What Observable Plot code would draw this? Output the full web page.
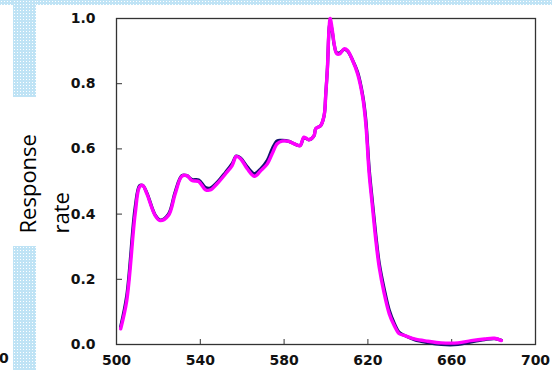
<!DOCTYPE html>
<html><head><meta charset="utf-8">
<script src="https://cdn.jsdelivr.net/npm/d3@7"></script>
<script src="https://cdn.jsdelivr.net/npm/@observablehq/plot@0.6"></script>
<style>
body{margin:0;background:#fff;}
#wrap{position:relative;width:552px;height:370px;overflow:hidden;background:#fff;}
.deco{position:absolute;background-color:#bfe3f5;background-image:radial-gradient(#ffffff 0.7px, transparent 0.9px);background-size:3px 3px;}
#stray{position:absolute;left:-1px;top:350px;font:bold 14px "DejaVu Sans";color:#111;}
#chart{position:absolute;left:0;top:0;}
</style></head><body>
<div id="wrap">
  <div class="deco" style="left:0;top:0;width:552px;height:5px;"></div>
  <div class="deco" style="left:13px;top:0;width:23px;height:97px;"></div>
  <div class="deco" style="left:13px;top:246px;width:23px;height:124px;"></div>
  <span id="stray">0</span>
  <div id="chart"></div>
</div>
<script>
const wavelength = [502, 504.9, 508.9, 511, 512.5, 514.5, 518.4, 520.8, 524.8, 528, 531.2, 533.6, 536, 539.2, 542.4, 544.8, 548, 552, 555.2, 557.2, 559.2, 562.4, 565.9, 568.7, 572, 574.3, 576.7, 579.1, 582.3, 584.7, 587.6, 589.5, 591.9, 594.3, 595.1, 597.5, 599.1, 599.9, 600.7, 601.5, 602, 603.1, 603.9, 605.1, 606.7, 608.6, 610.3, 612.7, 615.1, 617.5, 619, 620.6, 622.2, 623.8, 625.4, 627.8, 630.2, 632.6, 635, 637.4, 642.2, 648.6, 655, 663, 669.3, 675.7, 680.5, 683.7];
const magentaSeries = [0.048, 0.135, 0.40, 0.483, 0.488, 0.462, 0.396, 0.38, 0.396, 0.462, 0.516, 0.518, 0.503, 0.50, 0.475, 0.474, 0.493, 0.523, 0.549, 0.577, 0.57, 0.539, 0.516, 0.532, 0.554, 0.585, 0.616, 0.624, 0.623, 0.616, 0.61, 0.636, 0.628, 0.641, 0.662, 0.672, 0.702, 0.769, 0.851, 0.973, 1.0, 0.96, 0.922, 0.892, 0.892, 0.907, 0.902, 0.871, 0.83, 0.759, 0.677, 0.524, 0.421, 0.319, 0.237, 0.156, 0.094, 0.058, 0.033, 0.028, 0.017, 0.01, 0.005, 0.005, 0.012, 0.017, 0.019, 0.012];
const navySeries = [0.055, 0.15, 0.42, 0.487, 0.488, 0.465, 0.398, 0.382, 0.40, 0.468, 0.518, 0.518, 0.506, 0.505, 0.482, 0.48, 0.497, 0.528, 0.555, 0.578, 0.572, 0.545, 0.524, 0.538, 0.565, 0.60, 0.625, 0.626, 0.623, 0.616, 0.61, 0.634, 0.628, 0.641, 0.662, 0.672, 0.702, 0.77, 0.85, 0.97, 0.99, 0.955, 0.92, 0.895, 0.895, 0.905, 0.90, 0.872, 0.835, 0.765, 0.69, 0.54, 0.435, 0.335, 0.25, 0.17, 0.105, 0.065, 0.037, 0.028, 0.015, 0.006, 0.0, 0.0, 0.008, 0.015, 0.018, 0.013];
const xTicks = [500, 540, 580, 620, 660, 700];
const yTicks = [0, 0.2, 0.4, 0.6, 0.8, 1.0];
const yLabelLines = ["Response", "rate"];

const magenta = wavelength.map((w, i) => ({w, v: magentaSeries[i]}));
const navy = wavelength.map((w, i) => ({w, v: navySeries[i]}));

const chart = Plot.plot({
  width: 552,
  height: 370,
  marginLeft: 116,
  marginRight: 17,
  marginTop: 18,
  marginBottom: 26,
  style: {background: "transparent", overflow: "visible"},
  x: {domain: [500, 700]},
  y: {domain: [0, 1]},
  marks: [
    Plot.frame({stroke: "#333", strokeWidth: 1.3}),
    Plot.axisX({ticks: xTicks, tickSize: -5, tickPadding: 16, tickFormat: d => String(d), label: null,
      fontSize: 14, fontWeight: "bold", fontFamily: "DejaVu Sans", fill: "#111", stroke: "#333"}),
    Plot.axisY({ticks: yTicks, tickSize: -6, tickPadding: 27, tickFormat: d3.format(".1f"), label: null,
      fontSize: 14, fontWeight: "bold", fontFamily: "DejaVu Sans", fill: "#111", stroke: "#333"}),
    Plot.line(navy, {x: "w", y: "v", stroke: "#14146e", strokeWidth: 3.2, curve: "catmull-rom"}),
    Plot.line(magenta, {x: "w", y: "v", stroke: "#ff00ff", strokeWidth: 3.4, curve: "catmull-rom"}),
    Plot.text([yLabelLines[0]], {text: d => d, frameAnchor: "bottom-left", rotate: -90, textAnchor: "start",
      lineAnchor: "bottom", dx: -81, dy: -111, fontSize: 22, fontFamily: "Open Sans", fill: "#000"}),
    Plot.text([yLabelLines[1]], {text: d => d, frameAnchor: "bottom-left", rotate: -90, textAnchor: "start",
      lineAnchor: "bottom", dx: -48, dy: -111, fontSize: 22, fontFamily: "Open Sans", fill: "#000"})
  ]
});
document.getElementById("chart").appendChild(chart);
</script>
</body></html>
